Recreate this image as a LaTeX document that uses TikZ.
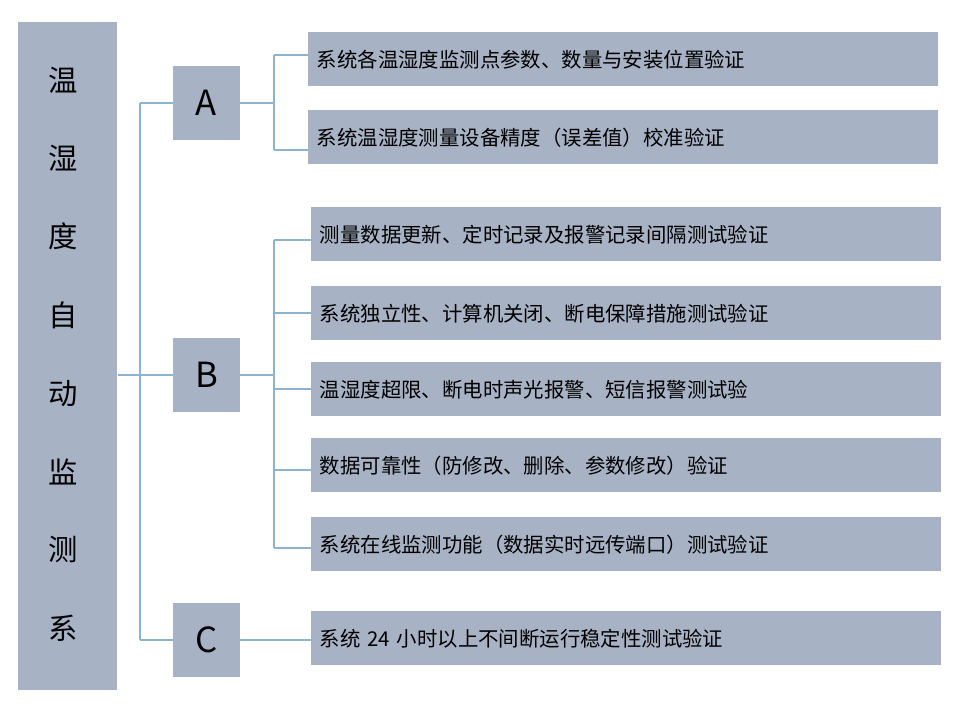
\documentclass[tikz,border=0pt]{standalone}
\usepackage{fontspec}
\setmainfont{Noto Sans CJK SC}
\begin{document}
\begin{tikzpicture}[x=0.75pt,y=-0.75pt,
  box/.style={fill=boxc,draw=none,inner sep=0pt},
  item/.style={box,minimum width=472.5pt,minimum height=40.5pt,text width=459.5pt,align=left,font=\fontsize{15.3pt}{17pt}\selectfont},
  letter/.style={box,minimum width=50.25pt,minimum height=55.5pt,font=\fontsize{26pt}{28pt}\selectfont},
  conn/.style={draw=linec,line width=0.8pt}]
\definecolor{boxc}{HTML}{A8B2C5}
\definecolor{linec}{HTML}{8DB3CF}
\useasboundingbox (0,0) rectangle (959,707);
\node[box,minimum width=74.25pt,minimum height=501pt,anchor=north west] (L) at (18,22) {};
\foreach \c [count=\i] in {温,湿,度,自,动,监,测,系}
  \node[font=\fontsize{22pt}{24pt}\selectfont] (t\i) at (63,{80+78.3*(\i-1)}) {\c};
\node[letter] (A) at (206.5,103) {A};
\node[letter] (B) at (206.5,375) {B};
\node[letter] (C) at (206.5,640) {C};
\node[item,anchor=north west] (a1) at (308,32) {系统各温湿度监测点参数、数量与安装位置验证};
\node[item,anchor=north west] (a2) at (308,110) {系统温湿度测量设备精度（误差值）校准验证};
\node[item,anchor=north west] (b1) at (311,207) {测量数据更新、定时记录及报警记录间隔测试验证};
\node[item,anchor=north west] (b2) at (311,286) {系统独立性、计算机关闭、断电保障措施测试验证};
\node[item,anchor=north west] (b3) at (311,362) {温湿度超限、断电时声光报警、短信报警测试验};
\node[item,anchor=north west] (b4) at (311,438) {数据可靠性（防修改、删除、参数修改）验证};
\node[item,anchor=north west] (b5) at (311,517) {系统在线监测功能（数据实时远传端口）测试验证};
\node[item,anchor=north west] (c1) at (311,611) {系统 24 小时以上不间断运行稳定性测试验证};
\coordinate (j0) at (140,375);
\coordinate (ja) at (274,103);
\coordinate (jb) at (274,375);
\draw[conn] (L.east |- j0) -- (j0);
\draw[conn] (j0 |- A) -- (j0 |- C);
\draw[conn] (j0 |- A) -- (A.west);
\draw[conn] (j0 |- B) -- (B.west);
\draw[conn] (j0 |- C) -- (C.west);
\draw[conn] (A.east) -- (ja);
\draw[conn] (ja |- 0,55) -- (ja |- 0,150);
\draw[conn] (ja |- 0,55) -- (a1.west |- 0,55);
\draw[conn] (ja |- 0,150) -- (a2.west |- 0,150);
\draw[conn] (B.east) -- (jb);
\draw[conn] (jb |- 0,240) -- (jb |- 0,548);
\draw[conn] (jb |- 0,240) -- (b1.west |- 0,240);
\draw[conn] (jb |- 0,313) -- (b2.west |- 0,313);
\draw[conn] (jb |- 0,389) -- (b3.west |- 0,389);
\draw[conn] (jb |- 0,470) -- (b4.west |- 0,470);
\draw[conn] (jb |- 0,548) -- (b5.west |- 0,548);
\draw[conn] (C.east) -- (c1.west |- C);
\end{tikzpicture}
\end{document}
